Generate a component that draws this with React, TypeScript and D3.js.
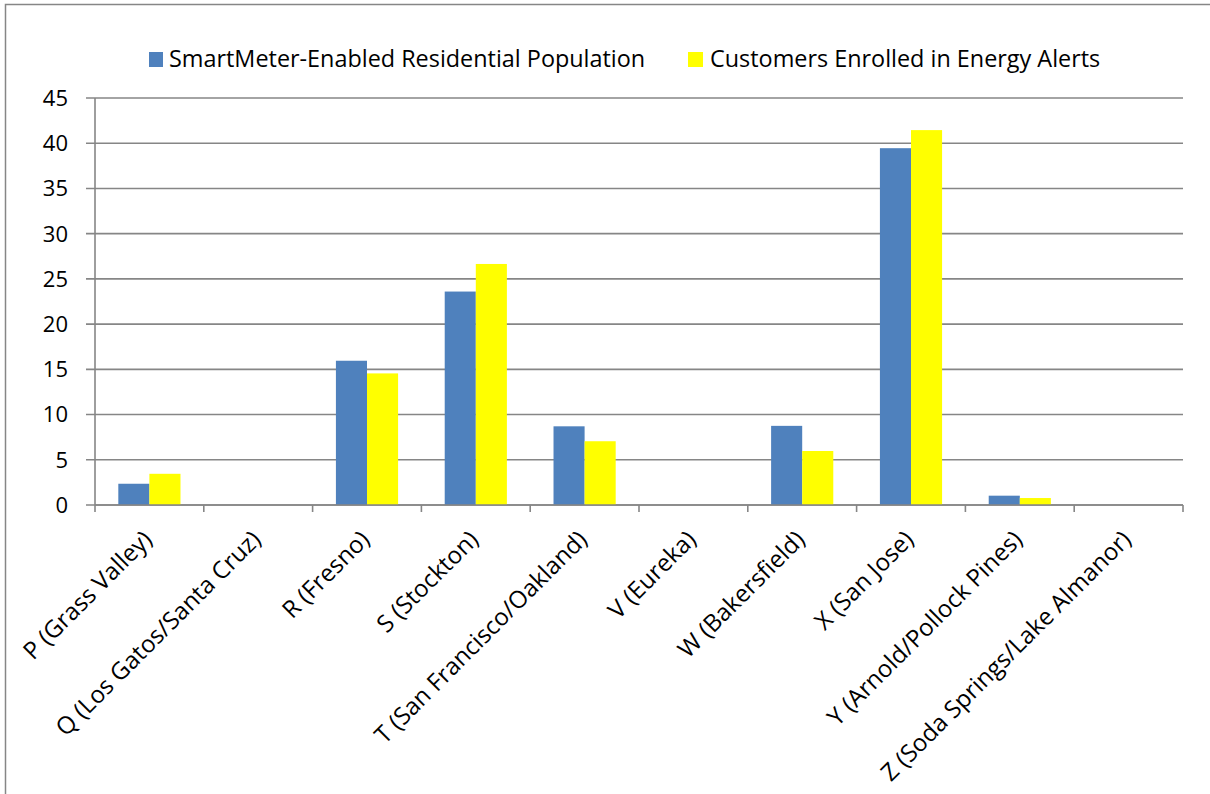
import React from "react";
import * as d3 from "d3";

const categories = [
  "P (Grass Valley)",
  "Q (Los Gatos/Santa Cruz)",
  "R (Fresno)",
  "S (Stockton)",
  "T (San Francisco/Oakland)",
  "V (Eureka)",
  "W (Bakersfield)",
  "X (San Jose)",
  "Y (Arnold/Pollock Pines)",
  "Z (Soda Springs/Lake Almanor)",
];
const seriesNames = [
  "SmartMeter-Enabled Residential Population",
  "Customers Enrolled in Energy Alerts",
];
const smartMeter = [2.35, 0, 15.95, 23.6, 8.7, 0, 8.75, 39.45, 1.03, 0];
const energyAlerts = [3.45, 0, 14.55, 26.65, 7.05, 0, 5.97, 41.45, 0.77, 0];
const yTicks = [0, 5, 10, 15, 20, 25, 30, 35, 40, 45];
const colors = ["#4F81BD", "#FFFF00"];

const W = 1210;
const H = 794;
const left = 95;
const right = 1183;
const top = 98;
const bottom = 505;
const FONT = "'Open Sans', sans-serif";
const GRID = "#868686";

export default function App() {
  const x = d3.scaleBand<string>().domain(categories).range([left, right]).padding(0);
  const bw = x.bandwidth();
  const gap = (bw * 0.75) / 3.5;
  const xs = d3.scaleBand<number>().domain([0, 1]).range([gap, bw - gap]).padding(0);
  const y = d3.scaleLinear().domain([0, 45]).range([bottom, top]);
  const series = [smartMeter, energyAlerts];

  return (
    <svg
      width={W}
      height={H}
      style={{ position: "absolute", left: 0, top: 0, background: "#fff" }}
      fontFamily={FONT}
    >
      <rect x={5.5} y={4.5} width={1400} height={1000} fill="#fff" stroke={GRID} strokeWidth={1.5} />
      {yTicks.map((t) => (
        <g key={t}>
          <line x1={86} x2={right} y1={y(t)} y2={y(t)} stroke={GRID} strokeWidth={1.6} />
          <text x={68} y={y(t)} dy="0.36em" textAnchor="end" fontSize={22} fill="#000">
            {t}
          </text>
        </g>
      ))}
      <line x1={left} x2={left} y1={top} y2={bottom} stroke={GRID} strokeWidth={1.6} />
      {series.map((vals, si) =>
        vals.map((v, i) =>
          v > 0 ? (
            <rect
              key={`${si}-${i}`}
              x={(x(categories[i]) as number) + (xs(si) as number)}
              y={y(v)}
              width={xs.bandwidth()}
              height={y(0) - y(v)}
              fill={colors[si]}
            />
          ) : null
        )
      )}
      <line x1={left} x2={right} y1={bottom} y2={bottom} stroke={GRID} strokeWidth={1.6} />
      {[...categories.map((c) => x(c) as number), right].map((px, i) => (
        <line key={i} x1={px} x2={px} y1={bottom} y2={bottom + 7} stroke={GRID} strokeWidth={1.6} />
      ))}
      {categories.map((c) => {
        const cx = (x(c) as number) + bw / 2 + 4;
        const cy = 541;
        return (
          <text
            key={c}
            x={cx}
            y={cy}
            textAnchor="end"
            fontSize={24}
            fill="#000"
            transform={`rotate(-45 ${cx} ${cy})`}
          >
            {c}
          </text>
        );
      })}
      <rect x={149} y={52} width={14} height={15} fill={colors[0]} />
      <text x={169} y={67} fontSize={23.4} fill="#000">
        {seriesNames[0]}
      </text>
      <rect x={688} y={52} width={15} height={15} fill={colors[1]} />
      <text x={710} y={67} fontSize={23.4} fill="#000">
        {seriesNames[1]}
      </text>
    </svg>
  );
}
